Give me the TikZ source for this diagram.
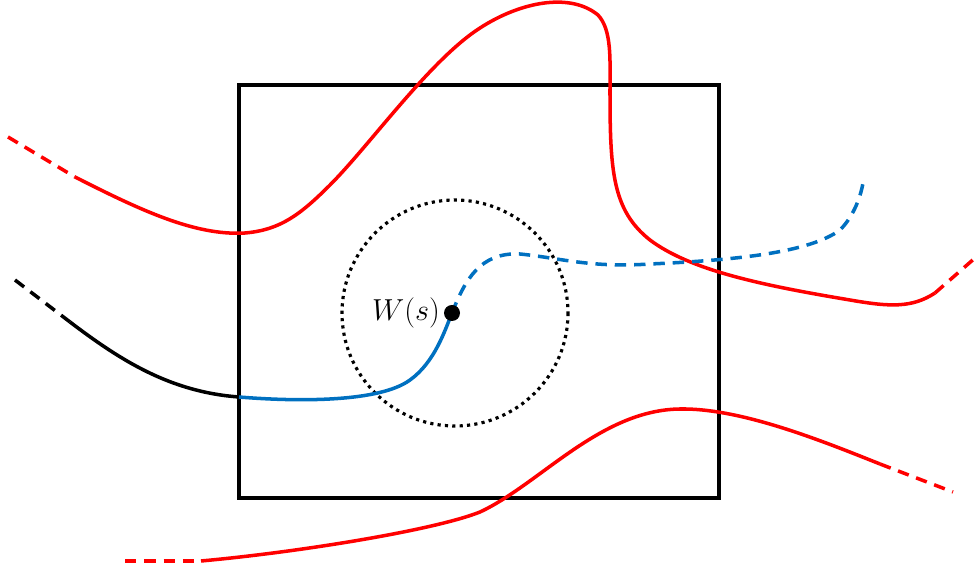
\documentclass[tikz,border=0pt]{standalone}
\usetikzlibrary{calc}
\definecolor{wpred}{HTML}{FF0000}
\definecolor{wpblue}{HTML}{0070C0}
\tikzset{
  wp frame/.style={draw=black, line width=2pt},
  wp ball/.style={draw=black, line width=1.8pt, dash pattern=on 1.8pt off 2.4pt},
  wp red/.style={draw=wpred, line width=2pt, line cap=butt},
  wp blue/.style={draw=wpblue, line width=2pt, line cap=butt},
  wp black/.style={draw=black, line width=2pt, line cap=butt},
  wp dash/.style={dash pattern=on 6.5pt off 4.5pt},
  wp label/.style={font=\LARGE, inner sep=1pt}
}

\begin{document}
\begin{tikzpicture}[x=0.02cm, y=-0.02cm]
  \useasboundingbox (0,0) rectangle (975,573);

  % box and ball
  \draw[wp frame] (239,85) rectangle (719,498);
  \coordinate (ws) at (452,313);
  \draw[wp ball] (455,313) circle[radius=113];

  % top red curve
  \coordinate (rAa) at (8,137);
  \coordinate (rAb) at (75,177);
  \coordinate (rAc) at (935,293);
  \coordinate (rAd) at (975,258);
  \draw[wp red, wp dash] (rAa) -- (rAb);
  \draw[wp red] (rAb) .. controls (140,210) and (195,236) .. (245,233)
    .. controls (280,230) and (300,215) .. (330,185)
    .. controls (370,145) and (430,60) .. (480,28)
    .. controls (520,2) and (570,-8) .. (598,15)
    .. controls (612,30) and (610,60) .. (610,90)
    .. controls (610,170) and (612,210) .. (650,240)
    .. controls (690,270) and (760,285) .. (850,300)
    .. controls (890,307) and (912,308) .. (rAc);
  \draw[wp red, wp dash] (rAc) -- (rAd);

  % bottom red curve
  \coordinate (rBa) at (125,561);
  \coordinate (rBb) at (201,561);
  \coordinate (rBc) at (880,464);
  \coordinate (rBd) at (953,492);
  \draw[wp red, wp dash] (rBa) -- (rBb);
  \draw[wp red] (rBb) .. controls (300,552) and (435,530) .. (480,512)
    .. controls (540,484) and (600,410) .. (680,409)
    .. controls (740,408) and (820,440) .. (rBc);
  \draw[wp red, wp dash] (rBc) -- (rBd);

  % path to W(s)
  \coordinate (kA) at (15,280);
  \coordinate (kB) at (70,322);
  \coordinate (kC) at (239,397);
  \draw[wp black, wp dash] (kA) -- (kB);
  \draw[wp black] (kB) .. controls (120,360) and (170,392) .. (kC);
  \draw[wp blue] (kC) .. controls (300,402) and (380,402) .. (410,380)
    .. controls (435,362) and (445,330) .. (ws);
  \draw[wp blue, wp dash] (ws) .. controls (465,280) and (480,252) .. (520,254)
    .. controls (560,258) and (590,268) .. (650,264)
    .. controls (740,260) and (810,252) .. (840,230)
    .. controls (852,218) and (860,200) .. (863,183);

  \fill[black] (ws) circle[radius=8];
  \node[wp label, anchor=east] (wslabel) at ($(ws)+(-10,0)$) {$W(s)$};
\end{tikzpicture}
\end{document}
